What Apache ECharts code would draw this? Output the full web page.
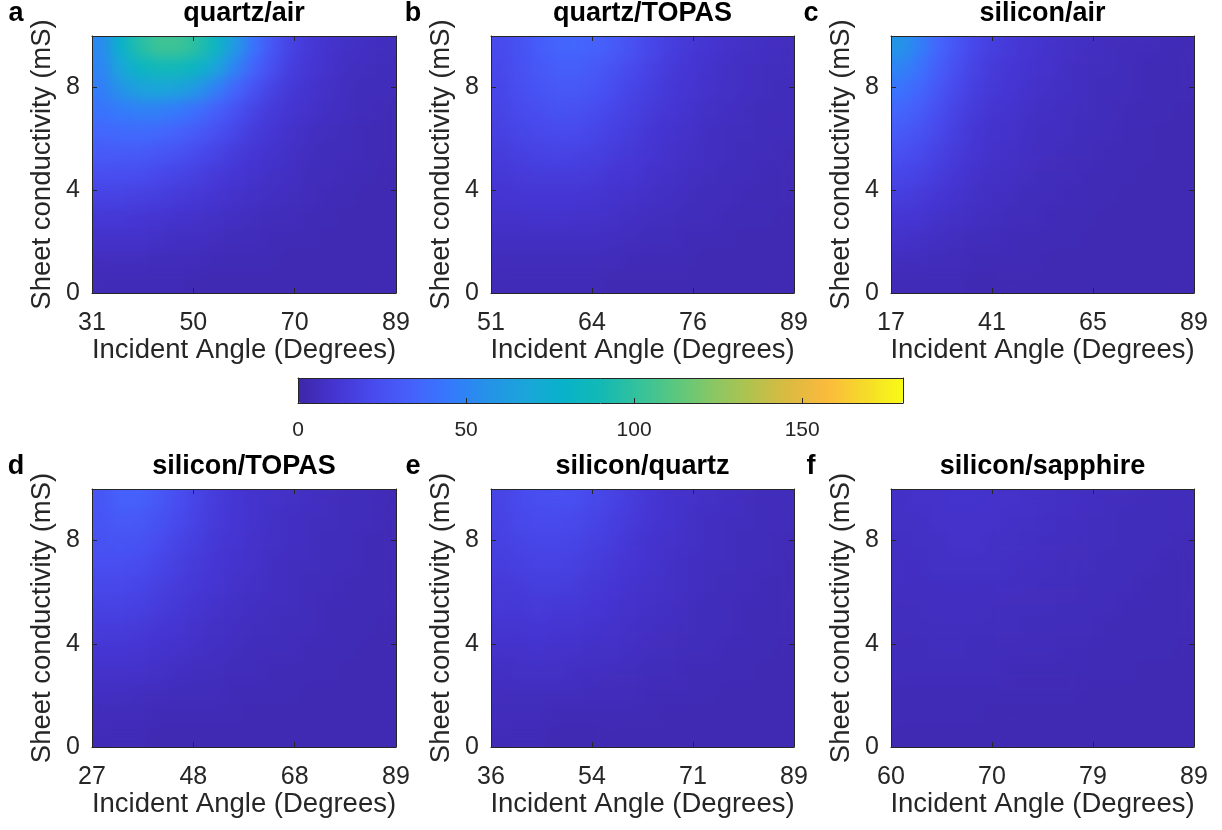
<!DOCTYPE html>
<html>
<head>
<meta charset="utf-8">
<title>Sheet conductivity vs incident angle</title>
<script src="https://cdn.jsdelivr.net/npm/echarts@6/dist/echarts.min.js"></script>
<style>
  html, body { margin: 0; padding: 0; background: #ffffff; }
  #stage { position: relative; width: 1222px; height: 830px; overflow: hidden; }
  #chart { position: absolute; left: 0; top: 0; width: 1222px; height: 830px; z-index: 2; }
  .map { position: absolute; z-index: 1; overflow: hidden; filter: url(#soften); }
</style>
</head>
<body>
<!-- interpolated shading of the map cells: blur, then renormalise near the box edges -->
<svg width="0" height="0" style="position:absolute">
  <filter id="soften" x="0" y="0" width="100%" height="100%" color-interpolation-filters="sRGB">
    <feGaussianBlur stdDeviation="7"/>
    <feColorMatrix type="matrix" values="1 0 0 0 0  0 1 0 0 0  0 0 1 0 0  0 0 0 0 1"/>
  </filter>
</svg>
<div id="stage"><div id="chart"></div></div>
<script>
// ---- labels ----
const panelLetters = ['a', 'b', 'c', 'd', 'e', 'f'];
const panelTitles = ['quartz/air', 'quartz/TOPAS', 'silicon/air', 'silicon/TOPAS', 'silicon/quartz', 'silicon/sapphire'];
const angleTicks = [
  ['31', '50', '70', '89'],
  ['51', '64', '76', '89'],
  ['17', '41', '65', '89'],
  ['27', '48', '68', '89'],
  ['36', '54', '71', '89'],
  ['60', '70', '79', '89']
];
const sigmaMax = 10;          // mS
const sigmaStep = 4;          // tick spacing, mS
const colorMax = 180;
const colorStep = 50;

// ---- map values: rows from 10 mS (top) down to 0 mS, columns from lowest to highest angle ----
const quartzAir = [
  [52, 78, 96, 104, 104, 98, 84, 62, 42, 28, 18, 13, 10, 8, 7, 6],
  [50, 68, 82, 88, 88, 82, 68, 50, 35, 24, 16, 12, 9, 7, 6, 5],
  [47, 57, 65, 68, 66, 59, 48, 36, 26, 18, 13, 10, 8, 6, 5, 5],
  [42, 46, 48, 48, 45, 40, 33, 26, 19, 14, 11, 9, 7, 6, 5, 4],
  [36, 38, 38, 37, 34, 30, 25, 20, 15, 12, 9, 7, 6, 5, 4, 4],
  [30, 30, 30, 28, 26, 22, 19, 15, 12, 10, 8, 6, 5, 5, 4, 4],
  [24, 24, 23, 21, 19, 17, 14, 12, 10, 8, 7, 5, 5, 4, 4, 3],
  [18, 18, 17, 16, 14, 13, 11, 9, 8, 7, 6, 5, 4, 4, 3, 3],
  [13, 13, 12, 11, 10, 9, 8, 7, 6, 5, 5, 4, 4, 3, 3, 3],
  [9, 9, 9, 8, 7, 7, 6, 5, 5, 4, 4, 4, 3, 3, 3, 3],
  [6, 6, 6, 5, 5, 5, 4, 4, 4, 4, 3, 3, 3, 3, 3, 3],
  [4, 4, 4, 4, 4, 3, 3, 3, 3, 3, 3, 3, 3, 3, 3, 3]
];
const quartzTopas = [
  [22, 26, 31, 35, 36, 34, 30, 25, 20, 16, 13, 11, 9, 8, 7, 6],
  [21, 25, 29, 32, 32, 30, 26, 22, 18, 14, 12, 10, 8, 7, 6, 6],
  [20, 24, 27, 29, 29, 27, 23, 19, 16, 13, 11, 9, 8, 7, 6, 5],
  [19, 22, 24, 26, 25, 23, 20, 17, 14, 12, 10, 8, 7, 6, 5, 5],
  [17, 20, 21, 22, 22, 20, 17, 15, 12, 10, 9, 7, 6, 6, 5, 5],
  [15, 17, 18, 19, 18, 17, 15, 13, 11, 9, 8, 7, 6, 5, 5, 4],
  [13, 14, 15, 15, 15, 14, 12, 11, 9, 8, 7, 6, 5, 5, 4, 4],
  [11, 12, 12, 12, 12, 11, 10, 9, 8, 7, 6, 5, 5, 4, 4, 4],
  [9, 9, 10, 10, 9, 9, 8, 7, 6, 6, 5, 5, 4, 4, 4, 3],
  [7, 7, 7, 7, 7, 7, 6, 6, 5, 5, 4, 4, 4, 3, 3, 3],
  [5, 5, 5, 5, 5, 5, 5, 4, 4, 4, 4, 3, 3, 3, 3, 3],
  [4, 4, 4, 4, 4, 4, 3, 3, 3, 3, 3, 3, 3, 3, 3, 3]
];
const siliconAir = [
  [58, 48, 36, 27, 20, 16, 13, 11, 9, 8, 7, 6, 5, 5, 4, 4],
  [50, 42, 32, 24, 18, 14, 12, 10, 9, 7, 6, 6, 5, 4, 4, 4],
  [42, 36, 28, 21, 16, 13, 11, 9, 8, 7, 6, 5, 5, 4, 4, 4],
  [36, 31, 24, 18, 14, 11, 10, 8, 7, 6, 6, 5, 4, 4, 4, 3],
  [30, 26, 21, 16, 12, 10, 9, 7, 7, 6, 5, 5, 4, 4, 3, 3],
  [25, 22, 18, 14, 11, 9, 8, 7, 6, 5, 5, 4, 4, 4, 3, 3],
  [20, 18, 15, 12, 9, 8, 7, 6, 5, 5, 4, 4, 4, 3, 3, 3],
  [16, 14, 12, 10, 8, 7, 6, 5, 5, 4, 4, 4, 3, 3, 3, 3],
  [12, 11, 9, 8, 7, 6, 5, 5, 4, 4, 4, 3, 3, 3, 3, 3],
  [9, 8, 7, 6, 5, 5, 4, 4, 4, 4, 3, 3, 3, 3, 3, 3],
  [6, 6, 5, 5, 4, 4, 4, 4, 3, 3, 3, 3, 3, 3, 3, 3],
  [4, 4, 4, 4, 3, 3, 3, 3, 3, 3, 3, 3, 3, 3, 3, 3]
];
const siliconTopas = [
  [28, 33, 33, 29, 24, 19, 15, 12, 10, 9, 8, 7, 6, 5, 5, 4],
  [27, 30, 29, 26, 22, 18, 14, 12, 10, 8, 7, 6, 6, 5, 5, 4],
  [26, 27, 26, 23, 19, 16, 13, 11, 9, 8, 7, 6, 5, 5, 4, 4],
  [24, 24, 23, 20, 17, 14, 12, 10, 9, 7, 6, 6, 5, 5, 4, 4],
  [21, 21, 20, 17, 15, 13, 11, 9, 8, 7, 6, 5, 5, 4, 4, 4],
  [18, 18, 17, 15, 13, 11, 9, 8, 7, 6, 6, 5, 4, 4, 4, 4],
  [15, 15, 14, 12, 11, 9, 8, 7, 6, 6, 5, 5, 4, 4, 4, 3],
  [12, 12, 11, 10, 9, 8, 7, 6, 5, 5, 5, 4, 4, 4, 3, 3],
  [9, 9, 9, 8, 7, 6, 6, 5, 5, 4, 4, 4, 4, 3, 3, 3],
  [7, 7, 6, 6, 5, 5, 5, 4, 4, 4, 4, 3, 3, 3, 3, 3],
  [5, 5, 5, 4, 4, 4, 4, 4, 3, 3, 3, 3, 3, 3, 3, 3],
  [4, 4, 4, 3, 3, 3, 3, 3, 3, 3, 3, 3, 3, 3, 3, 3]
];
const siliconQuartz = [
  [19, 22, 24, 25, 24, 21, 18, 15, 12, 10, 9, 8, 7, 6, 5, 5],
  [18, 21, 22, 22, 21, 19, 16, 14, 11, 10, 8, 7, 6, 6, 5, 5],
  [17, 19, 20, 20, 19, 17, 15, 12, 10, 9, 8, 7, 6, 5, 5, 4],
  [16, 17, 18, 18, 17, 15, 13, 11, 10, 8, 7, 6, 6, 5, 5, 4],
  [14, 15, 16, 16, 15, 13, 12, 10, 9, 8, 7, 6, 5, 5, 4, 4],
  [13, 13, 14, 13, 13, 12, 10, 9, 8, 7, 6, 5, 5, 4, 4, 4],
  [11, 11, 12, 11, 11, 10, 9, 8, 7, 6, 6, 5, 5, 4, 4, 4],
  [9, 9, 10, 9, 9, 8, 8, 7, 6, 6, 5, 5, 4, 4, 4, 3],
  [7, 8, 8, 8, 7, 7, 6, 6, 5, 5, 4, 4, 4, 4, 3, 3],
  [6, 6, 6, 6, 6, 5, 5, 5, 4, 4, 4, 4, 3, 3, 3, 3],
  [5, 5, 5, 4, 4, 4, 4, 4, 4, 3, 3, 3, 3, 3, 3, 3],
  [4, 4, 4, 3, 3, 3, 3, 3, 3, 3, 3, 3, 3, 3, 3, 3]
];
const siliconSapphire = [
  [8, 9, 9, 10, 10, 9, 9, 8, 8, 7, 7, 6, 6, 5, 5, 5],
  [8, 8, 9, 9, 9, 9, 8, 8, 7, 7, 6, 6, 5, 5, 5, 5],
  [7, 8, 8, 9, 9, 8, 8, 7, 7, 6, 6, 6, 5, 5, 5, 4],
  [7, 7, 8, 8, 8, 8, 7, 7, 6, 6, 6, 5, 5, 5, 4, 4],
  [7, 7, 7, 7, 7, 7, 7, 6, 6, 6, 5, 5, 5, 4, 4, 4],
  [6, 6, 7, 7, 7, 6, 6, 6, 6, 5, 5, 5, 4, 4, 4, 4],
  [6, 6, 6, 6, 6, 6, 6, 5, 5, 5, 5, 4, 4, 4, 4, 4],
  [5, 5, 6, 6, 5, 5, 5, 5, 5, 4, 4, 4, 4, 4, 4, 3],
  [5, 5, 5, 5, 5, 5, 4, 4, 4, 4, 4, 4, 4, 3, 3, 3],
  [4, 4, 4, 4, 4, 4, 4, 4, 4, 4, 3, 3, 3, 3, 3, 3],
  [4, 4, 4, 4, 4, 3, 3, 3, 3, 3, 3, 3, 3, 3, 3, 3],
  [3, 3, 3, 3, 3, 3, 3, 3, 3, 3, 3, 3, 3, 3, 3, 3]
];
const panelMaps = [quartzAir, quartzTopas, siliconAir, siliconTopas, siliconQuartz, siliconSapphire];

// parula-like colour ramp
const parula = [
  '#3E26A8', '#4535D2', '#484BEE', '#4661FC', '#3579FD', '#2592E8', '#1BA5DA',
  '#08B2C9', '#13B9B5', '#34C29C', '#5BC77E', '#8AC763', '#B3C24D', '#DCBA40',
  '#FCBA3D', '#F5DB29', '#F9FB15'
];

// ---- layout ----
const FONT = 'Arial, "Liberation Sans", Helvetica, sans-serif';
const INK = '#262626';
const colLeft = [92, 491, 891];
const colWidth = [304, 303, 303];
const rowTop = [36, 489];
const rowHeight = [257, 258];
const titleY = [14, 467];
const letterOffset = [76, 78, 80];
const cbar = { left: 298, top: 378, width: 605, height: 25 };

const grids = [], xAxes = [], yAxes = [], graphics = [];

const axisLine = { show: true, onZero: false, lineStyle: { color: INK, width: 1 } };
const innerTick = { show: true, inside: true, length: 5, lineStyle: { color: INK } };
const lineOnly = {
  show: true,
  z: 10,
  axisLine: axisLine,
  axisTick: { show: false },
  axisLabel: { show: false },
  splitLine: { show: false }
};

const stage = document.getElementById('stage');

panelMaps.forEach((grid, p) => {
  const col = p % 3, row = Math.floor(p / 3);
  const left = colLeft[col], top = rowTop[row];
  const width = colWidth[col], height = rowHeight[row];

  // ---- colour map layer for this panel ----
  const box = document.createElement('div');
  box.className = 'map';
  box.style.left = left + 'px';
  box.style.top = top + 'px';
  box.style.width = width + 'px';
  box.style.height = height + 'px';
  stage.appendChild(box);

  const nRows = grid.length;
  const cells = [];
  grid.forEach((r, ri) => r.forEach((v, ci) => cells.push([ci, nRows - 1 - ri, v])));

  echarts.init(box, null, { renderer: 'canvas' }).setOption({
    animation: false,
    grid: { left: 0, right: 0, top: 0, bottom: 0 },
    xAxis: { type: 'category', show: false, data: grid[0].map((_, i) => i) },
    yAxis: { type: 'category', show: false, data: grid.map((_, i) => i) },
    visualMap: {
      type: 'continuous', show: false, min: 0, max: colorMax, dimension: 2,
      inRange: { color: parula }
    },
    series: [{
      type: 'heatmap', data: cells, itemStyle: { borderWidth: 0 },
      emphasis: { disabled: true }, silent: true, progressive: 0
    }]
  });

  // ---- axes and box ----
  grids.push({ left, top, width, height, show: false });
  // top and right edges with mirrored inward ticks
  xAxes.push({
    type: 'category', gridIndex: p, position: 'top', z: 10,
    data: angleTicks[p], boundaryGap: false,
    axisLine: axisLine, axisTick: innerTick,
    axisLabel: { show: false }, splitLine: { show: false }
  });
  yAxes.push({
    type: 'value', gridIndex: p, position: 'right', z: 10,
    min: 0, max: sigmaMax, interval: sigmaStep,
    axisLine: axisLine, axisTick: innerTick,
    axisLabel: { show: false }, splitLine: { show: false }
  });
  // labelled bottom and left axes
  xAxes.push({
    type: 'category', gridIndex: p, position: 'bottom', z: 10,
    data: angleTicks[p], boundaryGap: false,
    name: 'Incident Angle (Degrees)', nameLocation: 'middle', nameGap: 39,
    nameTextStyle: { fontFamily: FONT, fontSize: 27.5, color: INK },
    axisLine: axisLine, axisTick: innerTick,
    axisLabel: { show: true, margin: 18, fontFamily: FONT, fontSize: 25, color: INK },
    splitLine: { show: false }
  });
  yAxes.push({
    type: 'value', gridIndex: p, position: 'left', z: 10,
    min: 0, max: sigmaMax, interval: sigmaStep,
    name: 'Sheet conductivity (mS)', nameLocation: 'middle', nameGap: 36,
    nameTextStyle: { fontFamily: FONT, fontSize: 27.5, color: INK },
    axisLine: axisLine, axisTick: innerTick,
    axisLabel: { show: true, margin: 12, fontFamily: FONT, fontSize: 25, color: INK, showMaxLabel: false },
    splitLine: { show: false }
  });

  const cx = left + width / 2;
  graphics.push({
    type: 'text', x: cx, y: titleY[row],
    style: { text: panelTitles[p], font: 'bold 27px ' + FONT, fill: '#000', textAlign: 'center', textVerticalAlign: 'middle' }
  });
  graphics.push({
    type: 'text', x: left - letterOffset[col], y: titleY[row],
    style: { text: panelLetters[p], font: 'bold 27px ' + FONT, fill: '#000', textAlign: 'center', textVerticalAlign: 'middle' }
  });
});

// colour bar frame and ticks
const cb = grids.length;
grids.push({ left: cbar.left, top: cbar.top, width: cbar.width, height: cbar.height, show: false });
xAxes.push({
  type: 'value', gridIndex: cb, position: 'bottom', z: 10,
  min: 0, max: colorMax, interval: colorStep,
  axisLine: axisLine, axisTick: innerTick,
  axisLabel: { show: true, margin: 17, fontFamily: FONT, fontSize: 21, color: INK, showMaxLabel: false },
  splitLine: { show: false }
});
xAxes.push(Object.assign({}, lineOnly, { type: 'value', gridIndex: cb, position: 'top', min: 0, max: colorMax }));
yAxes.push(Object.assign({}, lineOnly, { type: 'value', gridIndex: cb, position: 'left', min: 0, max: 1 }));
yAxes.push(Object.assign({}, lineOnly, { type: 'value', gridIndex: cb, position: 'right', min: 0, max: 1 }));

const chart = echarts.init(document.getElementById('chart'), null, { renderer: 'canvas' });
chart.setOption({
  backgroundColor: 'transparent',
  animation: false,
  textStyle: { fontFamily: FONT },
  grid: grids,
  xAxis: xAxes,
  yAxis: yAxes,
  visualMap: {
    type: 'continuous', show: true, orient: 'horizontal',
    min: 0, max: colorMax,
    left: cbar.left, top: cbar.top, itemWidth: cbar.height, itemHeight: cbar.width,
    padding: 0, calculable: false, hoverLink: false, text: null,
    textStyle: { color: 'transparent' },
    inRange: { color: parula }
  },
  series: [],
  graphic: graphics
});
</script>
</body>
</html>
